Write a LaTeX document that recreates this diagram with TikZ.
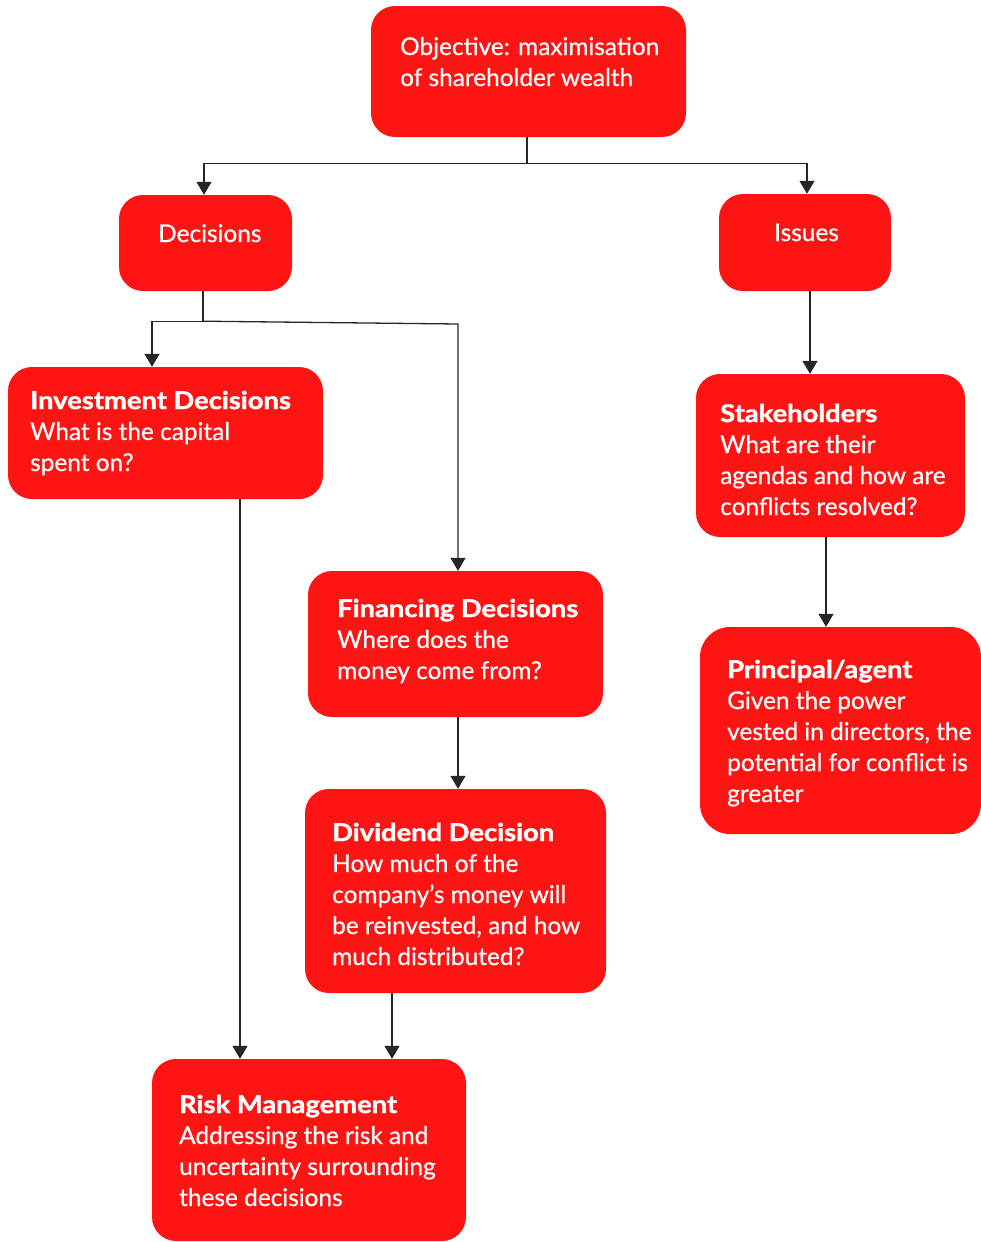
\documentclass[tikz,border=0pt]{standalone}
\usepackage{fontspec}
\setmainfont{Lato}[FakeBold=0.6, BoldFeatures={FakeBold=1.6, FakeStretch=1.12}]
\usetikzlibrary{arrows.meta}
\definecolor{boxred}{RGB}{255,20,20}
\tikzset{
  box/.style={draw=none, fill=boxred, rounded corners=24pt, inner sep=0pt},
  txt/.style={anchor=base west, inner sep=0pt, text=white},
  link/.style={draw=black!85, line width=1.3pt},
  arr/.style={link, -{Triangle[width=15pt,length=13pt]}},
}
\newcommand{\boxtext}[1]{\parbox[t]{12cm}{\raggedright\fontsize{24.4}{31}\selectfont #1}}
\begin{document}
\begin{tikzpicture}[x=1pt,y=-1pt]
\useasboundingbox (0,0) rectangle (980,1242);

% boxes
\node[box, minimum width=315pt, minimum height=131pt] (obj) at (528.5,71.5) {};
\node[box, minimum width=173pt, minimum height=96pt]  (dec) at (205.5,243) {};
\node[box, minimum width=172pt, minimum height=97pt]  (iss) at (805,242.5) {};
\node[box, minimum width=315pt, minimum height=132pt] (inv) at (165.5,433) {};
\node[box, minimum width=269pt, minimum height=163pt] (stk) at (830.5,455.5) {};
\node[box, minimum width=295pt, minimum height=146pt] (fin) at (455.5,644) {};
\node[box, minimum width=281pt, minimum height=207pt, rounded corners=30pt] (pa) at (840.5,730.5) {};
\node[box, minimum width=301pt, minimum height=204pt] (div) at (455.5,891) {};
\node[box, minimum width=314pt, minimum height=182pt] (risk) at (309,1150) {};

% texts
\node[txt] (tobj) at (400,55) {\boxtext{Objective: maximisation\\of shareholder wealth}};
\node[txt] (tdec) at (158,242) {\boxtext{Decisions}};
\node[txt] (tiss) at (774,241) {\boxtext{Issues}};
\node[txt] (tinv) at (30,409) {\boxtext{\textbf{Investment Decisions}\\What is the capital\\spent on?}};
\node[txt] (tstk) at (720,422) {\boxtext{\textbf{Stakeholders}\\What are their\\agendas and how are\\conflicts resolved?}};
\node[txt] (tfin) at (337,617) {\boxtext{\textbf{Financing Decisions}\\Where does the\\money come from?}};
\node[txt] (tpa)  at (727,678) {\boxtext{\textbf{Principal/agent}\\Given the power\\vested in directors, the\\potential for conflict is\\greater}};
\node[txt] (tdiv) at (332,841) {\boxtext{\textbf{Dividend Decision}\\How much of the\\company's money will\\be reinvested, and how\\much distributed?}};
\node[txt] (trisk) at (179,1113) {\boxtext{\textbf{Risk Management}\\Addressing the risk and\\uncertainty surrounding\\these decisions}};

% connectors
\coordinate (oj) at ([xshift=-1.5pt,yshift=-26pt]obj.south);
\draw[link] ([xshift=-1.5pt]obj.south) -- (oj);
\draw[arr] (oj) -| ([xshift=-1.5pt]dec.north);
\draw[arr] (oj) -| ([xshift=2pt]iss.north);

\coordinate (dj) at ([xshift=-2.5pt,yshift=-30pt]dec.south);
\draw[link] ([xshift=-2.5pt]dec.south) -- (dj);
\draw[arr] (dj) -| ([xshift=-13.5pt]inv.north);
\draw[arr] (dj) -- ([xshift=2.5pt]fin.north |- 0,324) -- ([xshift=2.5pt]fin.north);

\draw[arr] ([xshift=5pt]iss.south) -- ([xshift=-20.5pt]stk.north);
\draw[arr] ([xshift=-4.5pt]stk.south) -- ([xshift=-14.5pt]pa.north);
\draw[arr] ([xshift=74.5pt]inv.south) -- ([xshift=-69pt]risk.north);
\draw[arr] ([xshift=2.5pt]fin.south) -- ([xshift=2.5pt]div.north);
\draw[arr] ([xshift=-63.5pt]div.south) -- ([xshift=83pt]risk.north);
\end{tikzpicture}
\end{document}
